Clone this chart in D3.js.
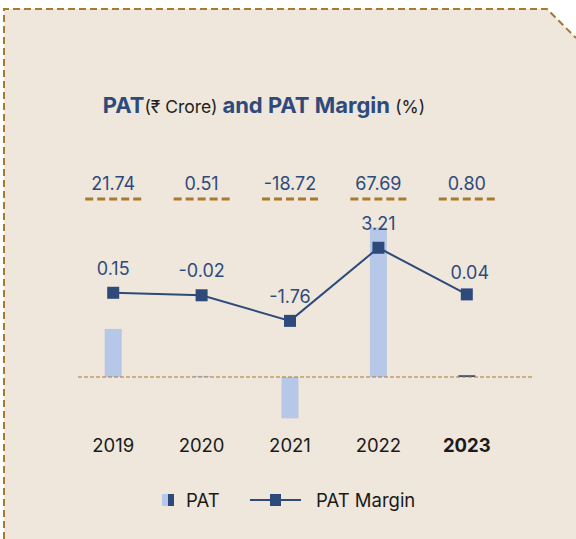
<!DOCTYPE html>
<html>
<head>
<meta charset="utf-8">
<script src="https://cdn.jsdelivr.net/npm/d3@7"></script>
<style>
  html, body { margin: 0; padding: 0; background: #fff; }
  svg { display: block; font-family: Inter, "Noto Sans", "DejaVu Sans", sans-serif; }
</style>
</head>
<body>
<div id="chart"></div>
<script>
// Data
const years = ['2019', '2020', '2021', '2022', '2023'];
const pat = [21.74, 0.51, -18.72, 67.69, 0.80];
const patMargin = [0.15, -0.02, -1.76, 3.21, 0.04];
const patLabels = ['21.74', '0.51', '-18.72', '67.69', '0.80'];
const marginLabels = ['0.15', '-0.02', '-1.76', '3.21', '0.04'];

const width = 576, height = 539;
const navy = '#2e4a7b';
const lightBlue = '#b6c7e7';
const brown = '#a87a2c';

const svg = d3.select('#chart').append('svg')
    .attr('width', width)
    .attr('height', height);

// card background with cut corner
svg.append('path')
    .attr('d', 'M4,539 L4,9 L547,9 L576,38 L576,539 Z')
    .attr('fill', '#efe6dc');
svg.append('path')
    .attr('d', 'M4,539 L4,9 L547,9 L576,38')
    .attr('fill', 'none')
    .attr('stroke', brown)
    .attr('stroke-width', 2)
    .attr('stroke-dasharray', '7,4');

// Title
const title = svg.append('text')
    .attr('x', 264).attr('y', 113)
    .attr('text-anchor', 'middle');
title.append('tspan').text('PAT').attr('font-weight', 'bold').attr('fill', navy).attr('font-size', 22);
title.append('tspan').text('(₹ Crore) ').attr('fill', '#222').attr('font-size', 17.5);
title.append('tspan').text('and PAT Margin ').attr('font-weight', 'bold').attr('fill', navy).attr('font-size', 22);
title.append('tspan').text('(%)').attr('fill', '#222').attr('font-size', 17.5);

// Scales
const x = d3.scaleBand().domain(years).range([69, 511]);
const cx = d => x(d) + x.bandwidth() / 2;
const yBar = d3.scaleLinear().domain([-20, 70]).range([421.2, 222.3]);
const yLine = d3.scaleLinear().domain([-2, 3.5]).range([324.4, 243.5]);
const barW = 17;

// PAT value labels on top with dashed underline
const patRow = svg.append('g');
patRow.selectAll('text').data(years).enter().append('text')
    .attr('x', cx).attr('y', 190)
    .attr('text-anchor', 'middle')
    .attr('font-size', 18)
    .attr('fill', navy)
    .text((d, i) => patLabels[i]);
patRow.selectAll('line').data(years).enter().append('line')
    .attr('x1', d => cx(d) - 28).attr('x2', d => cx(d) + 30)
    .attr('y1', 199).attr('y2', 199)
    .attr('stroke', brown)
    .attr('stroke-width', 3)
    .attr('stroke-dasharray', '8,4');

// Bars
svg.append('g').selectAll('rect').data(years).enter().append('rect')
    .attr('x', d => cx(d) - barW / 2)
    .attr('width', barW)
    .attr('y', (d, i) => yBar(Math.max(0, pat[i])))
    .attr('height', (d, i) => Math.abs(yBar(pat[i]) - yBar(0)))
    .attr('fill', (d, i) => i === years.length - 1 ? navy : lightBlue);

// Zero line
svg.append('line')
    .attr('x1', 78).attr('x2', 533)
    .attr('y1', yBar(0)).attr('y2', yBar(0))
    .attr('stroke', brown)
    .attr('stroke-width', 1)
    .attr('stroke-dasharray', '4,2');

// Margin line
const line = d3.line().x(d => cx(d)).y((d, i) => yLine(patMargin[i]));
svg.append('path')
    .datum(years)
    .attr('d', line)
    .attr('fill', 'none')
    .attr('stroke', navy)
    .attr('stroke-width', 2);
svg.append('g').selectAll('rect').data(years).enter().append('rect')
    .attr('x', d => cx(d) - 6)
    .attr('y', (d, i) => yLine(patMargin[i]) - 6)
    .attr('width', 12).attr('height', 12)
    .attr('fill', navy);
svg.append('g').selectAll('text').data(years).enter().append('text')
    .attr('x', (d, i) => cx(d) + (i === 4 ? 3 : 0))
    .attr('y', (d, i) => yLine(patMargin[i]) - (i === 4 ? 15 : 18))
    .attr('text-anchor', 'middle')
    .attr('font-size', 18)
    .attr('fill', navy)
    .text((d, i) => marginLabels[i]);

// X axis labels
svg.append('g').selectAll('text').data(years).enter().append('text')
    .attr('x', cx).attr('y', 452)
    .attr('text-anchor', 'middle')
    .attr('font-size', 18.5)
    .attr('font-weight', (d, i) => i === years.length - 1 ? 'bold' : 'normal')
    .attr('fill', '#1a1a1a')
    .text(d => d);

// Legend
const lg = svg.append('g');
lg.append('rect').attr('x', 162).attr('y', 494).attr('width', 6).attr('height', 12).attr('fill', lightBlue);
lg.append('rect').attr('x', 168).attr('y', 494).attr('width', 6).attr('height', 12).attr('fill', navy);
lg.append('text').attr('x', 186).attr('y', 507).attr('font-size', 18.5).attr('fill', '#1a1a1a').text('PAT');
lg.append('line').attr('x1', 250).attr('x2', 301).attr('y1', 500).attr('y2', 500)
    .attr('stroke', navy).attr('stroke-width', 2);
lg.append('rect').attr('x', 270).attr('y', 494).attr('width', 11).attr('height', 12).attr('fill', navy);
lg.append('text').attr('x', 316).attr('y', 507).attr('font-size', 18.5).attr('fill', '#1a1a1a').text('PAT Margin');
</script>
</body>
</html>
